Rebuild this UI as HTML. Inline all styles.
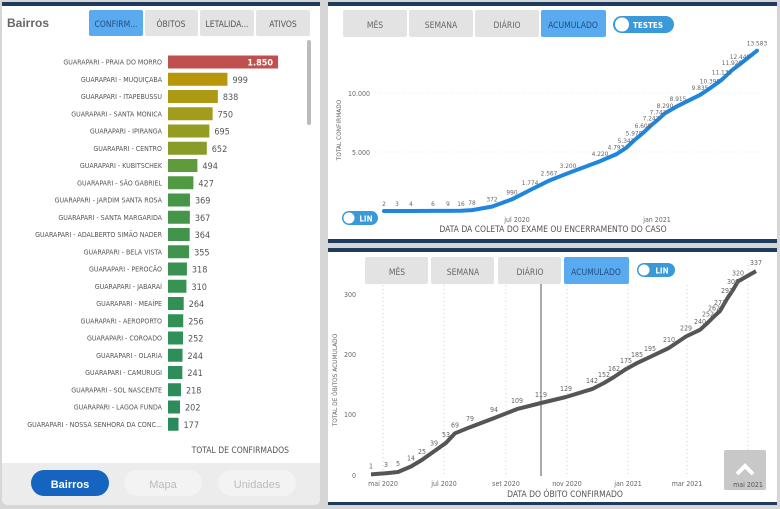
<!DOCTYPE html>
<html><head><meta charset="utf-8"><style>
html,body{margin:0;padding:0;background:#d6d6d6;width:780px;height:509px;overflow:hidden}
svg{display:block;font-family:"DejaVu Sans Condensed","Liberation Sans",sans-serif}
</style></head><body>
<svg width="780" height="509" viewBox="0 0 780 509" xmlns="http://www.w3.org/2000/svg">
<rect width="780" height="509" fill="#d6d6d6"/>
<rect x="2" y="3" width="318" height="502" rx="5" fill="#ececec"/>
<rect x="2" y="3" width="318" height="460" fill="#fff"/>
<rect x="2" y="2" width="318" height="4" fill="#1e3a5c"/>
<text x="7" y="27" font-size="12" font-weight="bold" fill="#666" font-family="Liberation Sans,sans-serif">Bairros</text>
<rect x="89" y="10" width="54" height="26" rx="2" fill="#5aaaf0"/>
<text x="116" y="27" font-size="8.5" fill="#1e4d80" text-anchor="middle">CONFIRM...</text>
<rect x="145" y="10" width="53" height="26" rx="2" fill="#e3e3e3"/>
<text x="171" y="27" font-size="8.5" fill="#555" text-anchor="middle">ÓBITOS</text>
<rect x="200" y="10" width="54" height="26" rx="2" fill="#e3e3e3"/>
<text x="227" y="27" font-size="8.5" fill="#555" text-anchor="middle">LETALIDA...</text>
<rect x="256" y="10" width="54" height="26" rx="2" fill="#e3e3e3"/>
<text x="283" y="27" font-size="8.5" fill="#555" text-anchor="middle">ATIVOS</text>
<rect x="307" y="40" width="4" height="85" rx="2" fill="#bbb"/>
<g font-size="7" fill="#555" text-anchor="end" id="bars"></g>
<text x="289" y="453" font-size="8.5" fill="#555" text-anchor="end">TOTAL DE CONFIRMADOS</text>
<rect x="31" y="470" width="78" height="26" rx="13" fill="#1565c0"/>
<text x="70" y="488" font-size="11" font-weight="bold" fill="#fff" text-anchor="middle" font-family="Liberation Sans,sans-serif">Bairros</text>
<rect x="124" y="470" width="78" height="26" rx="13" fill="#f3f3f3"/>
<text x="163" y="488" font-size="11" fill="#bbb" text-anchor="middle" font-family="Liberation Sans,sans-serif">Mapa</text>
<rect x="218" y="470" width="78" height="26" rx="13" fill="#f3f3f3"/>
<text x="257" y="488" font-size="11" fill="#bbb" text-anchor="middle" font-family="Liberation Sans,sans-serif">Unidades</text>

<rect x="328" y="3" width="449" height="240" fill="#fff"/>
<rect x="328" y="2" width="449" height="4" fill="#1e3a5c"/>
<rect x="328" y="239" width="449" height="4" fill="#1e3a5c"/>
<rect x="343" y="10" width="64" height="27" rx="2" fill="#e3e3e3"/><text x="375" y="28" font-size="8.5" fill="#666" text-anchor="middle">MÊS</text>
<rect x="409" y="10" width="64" height="27" rx="2" fill="#e3e3e3"/><text x="441" y="28" font-size="8.5" fill="#666" text-anchor="middle">SEMANA</text>
<rect x="475" y="10" width="64" height="27" rx="2" fill="#e3e3e3"/><text x="507" y="28" font-size="8.5" fill="#666" text-anchor="middle">DIÁRIO</text>
<rect x="541" y="10" width="65" height="27" rx="2" fill="#5aaaf0"/><text x="573" y="28" font-size="8.5" fill="#1e4d80" text-anchor="middle">ACUMULADO</text>
<rect x="613" y="16" width="61" height="17" rx="8.5" fill="#3a9ad9"/><circle cx="622" cy="24.5" r="7" fill="#fff"/><text x="648" y="28" font-size="8" font-weight="bold" fill="#fff" text-anchor="middle">TESTES</text>
<line x1="375" y1="93" x2="760" y2="93" stroke="#eee" stroke-dasharray="1,2"/>
<line x1="375" y1="152" x2="760" y2="152" stroke="#eee" stroke-dasharray="1,2"/>
<text x="370" y="96" font-size="7" fill="#666" text-anchor="end">10.000</text>
<text x="370" y="155" font-size="7" fill="#666" text-anchor="end">5.000</text>
<text transform="translate(341,130) rotate(-90)" font-size="6.5" fill="#666" text-anchor="middle">TOTAL CONFIRMADO</text>
<text x="517" y="222" font-size="7" fill="#666" text-anchor="middle">jul 2020</text>
<text x="657" y="222" font-size="7" fill="#666" text-anchor="middle">jan 2021</text>
<text x="553" y="232" font-size="8.5" fill="#555" text-anchor="middle">DATA DA COLETA DO EXAME OU ENCERRAMENTO DO CASO</text>
<rect x="342" y="211" width="36" height="14" rx="7" fill="#3a9ad9"/><circle cx="349" cy="218" r="5.5" fill="#fff"/><text x="366" y="221.5" font-size="8" font-weight="bold" fill="#fff" text-anchor="middle">LIN</text>
<g id="top"></g>

<rect x="328" y="250" width="449" height="255" fill="#fff"/>
<rect x="328" y="248" width="449" height="4" fill="#1e3a5c"/>
<rect x="328" y="502" width="449" height="3" fill="#1e3a5c"/>
<g stroke="#ccc" stroke-dasharray="1,3">
<line x1="383" y1="285" x2="383" y2="475"/><line x1="444" y1="285" x2="444" y2="475"/><line x1="506" y1="285" x2="506" y2="475"/><line x1="567" y1="285" x2="567" y2="475"/><line x1="628" y1="285" x2="628" y2="475"/><line x1="687" y1="285" x2="687" y2="475"/><line x1="748" y1="265" x2="748" y2="475"/>
</g>
<rect x="365" y="257" width="63" height="27" rx="2" fill="#e3e3e3"/><text x="397" y="275" font-size="8.5" fill="#666" text-anchor="middle">MÊS</text>
<rect x="431" y="257" width="63" height="27" rx="2" fill="#e3e3e3"/><text x="463" y="275" font-size="8.5" fill="#666" text-anchor="middle">SEMANA</text>
<rect x="498" y="257" width="63" height="27" rx="2" fill="#e3e3e3"/><text x="530" y="275" font-size="8.5" fill="#666" text-anchor="middle">DIÁRIO</text>
<rect x="564" y="257" width="65" height="27" rx="2" fill="#5aaaf0"/><text x="596" y="275" font-size="8.5" fill="#1e4d80" text-anchor="middle">ACUMULADO</text>
<rect x="637" y="263" width="38" height="14" rx="7" fill="#3a9ad9"/><circle cx="644" cy="270" r="5.5" fill="#fff"/><text x="662" y="273.5" font-size="8" font-weight="bold" fill="#fff" text-anchor="middle">LIN</text>
<line x1="541" y1="284" x2="541" y2="476" stroke="#555"/>
<g font-size="7" fill="#666" text-anchor="end">
<text x="356" y="297">300</text><text x="356" y="357">200</text><text x="356" y="417">100</text><text x="356" y="478">0</text></g>
<text transform="translate(337,380) rotate(-90)" font-size="6.5" fill="#666" text-anchor="middle">TOTAL DE ÓBITOS ACUMULADO</text>
<g font-size="7" fill="#666" text-anchor="middle">
<text x="383" y="486">mai 2020</text><text x="444" y="486">jul 2020</text><text x="506" y="486">set 2020</text><text x="567" y="486">nov 2020</text><text x="628" y="486">jan 2021</text><text x="687" y="486">mar 2021</text></g>
<text x="565" y="497" font-size="8.5" fill="#555" text-anchor="middle">DATA DO ÓBITO CONFIRMADO</text>
<g id="bot"></g>
<rect x="724" y="450" width="42" height="40" rx="2" fill="#c8c8c8"/>
<path d="M737 474 L745 466 L753 474" stroke="#fff" stroke-width="4" fill="none"/>
<text x="748" y="487" font-size="7" fill="#555" text-anchor="middle">mai 2021</text>
</svg>
<script>
var NS="http://www.w3.org/2000/svg";
function el(p,t,a,txt){var e=document.createElementNS(NS,t);for(var k in a)e.setAttribute(k,a[k]);if(txt!=null)e.textContent=txt;p.appendChild(e);return e;}
var bars=[["PRAIA DO MORRO",1850,"#c0504d"],["MUQUIÇABA",999,"#b8960c"],["ITAPEBUSSU",838,"#ad9a14"],["SANTA MONICA",750,"#a29c1c"],["IPIRANGA",695,"#949c22"],["CENTRO",652,"#8a9c28"],["KUBITSCHEK",494,"#5f9a3c"],["SÃO GABRIEL",427,"#529a42"],["JARDIM SANTA ROSA",369,"#459646"],["SANTA MARGARIDA",367,"#45964a"],["ADALBERTO SIMÃO NADER",364,"#42944c"],["BELA VISTA",355,"#40944e"],["PEROCÃO",318,"#3a9250"],["JABARAÍ",310,"#389252"],["MEAÍPE",264,"#329054"],["AEROPORTO",256,"#309056"],["COROADO",252,"#2f9058"],["OLARIA",244,"#2e8e58"],["CAMURUGI",241,"#2e8e5a"],["SOL NASCENTE",218,"#2d8c5a"],["LAGOA FUNDA",202,"#2c8c5c"],["NOSSA SENHORA DA CONC...",177,"#2b8a5c"]];
var g=document.getElementById("bars");
bars.forEach(function(b,i){var y=62+i*17.25;var w=b[1]*0.0595;
el(g,"text",{x:162,y:y+2.5},"GUARAPARI - "+b[0]);
el(g,"rect",{x:168,y:y-6.5,width:w,height:13,fill:b[2]});
if(i==0)el(g,"text",{x:273,y:y+3.5,"font-size":9,fill:"#fff","font-weight":"bold"},"1.850");
else el(g,"text",{x:168+w+5,y:y+3.5,"font-size":9,fill:"#555","text-anchor":"start"},b[1]);});
var tp=[[384,2],[397,3],[411,4],[433,6],[448,9],[461,16],[472,78],[492,372],[512,990],[530,1774],[549,2567],[568,3200],[600,4220],[616,4793],[626,5342],[634,5978],[643,6608],[651,7242],[658,7742],[665,8290],[678,8915],[700,9835],[710,10398],[722,11132],[732,11929],[740,12449],[757,13583]];
var t=document.getElementById("top");
function fmt(v){return v>=1000?String(v).replace(/(\d)(?=(\d{3})$)/,"$1."):String(v);}
var d="";tp.forEach(function(p,i){var y=211-p[1]*0.0118;d+=(i?"L":"M")+p[0]+" "+y.toFixed(1);});
el(t,"path",{d:d,stroke:"#1f86e0","stroke-width":4,fill:"none","stroke-linejoin":"round","stroke-linecap":"round"});
tp.forEach(function(p){var y=211-p[1]*0.0118;el(t,"text",{x:p[0],y:y-5,"font-size":6.5,fill:"#666","text-anchor":"middle"},fmt(p[1]));});
var bp=[[371,1],[386,3],[398,5],[411,14],[422,25],[434,39],[446,53],[455,69],[470,79],[494,94],[517,109],[541,119],[566,129],[592,142],[604,152],[614,162],[626,175],[637,185],[650,195],[669,210],[686,229],[700,240],[708,252],[714,262],[720,271],[727,291],[733,306],[738,320],[756,337]];
var b2=document.getElementById("bot");d="";
bp.forEach(function(p,i){var y=475-p[1]*0.605;d+=(i?"L":"M")+p[0]+" "+y.toFixed(1);});
el(b2,"path",{d:d,stroke:"#555","stroke-width":4,fill:"none","stroke-linejoin":"round"});
bp.forEach(function(p){var y=475-p[1]*0.605;el(b2,"text",{x:p[0],y:y-6,"font-size":7,fill:"#666","text-anchor":"middle"},p[1]);});
</script>
</body></html>
